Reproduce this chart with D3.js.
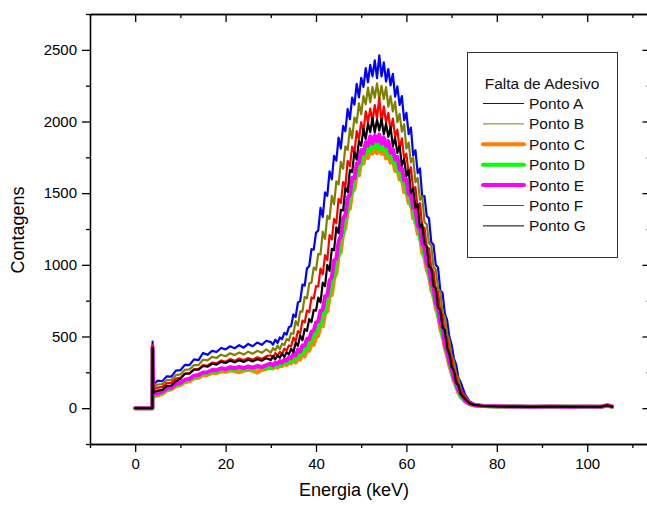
<!DOCTYPE html>
<html><head><meta charset="utf-8">
<script src="https://cdn.jsdelivr.net/npm/d3@7"></script>
<style>
body{margin:0;background:#fff}
svg{display:block}
text{font-family:"Liberation Sans",Arial,sans-serif}
</style>
</head><body>
<svg id="chart" width="647" height="510"></svg>
<script>
// ---------- DATA ----------
const energy = [0,3.8,3.85,4.0,4.3,
 5,6,7,8,9,10,11,12,13,14,
 15,16,17,18,19,20,21,22,23,24,
 25,26,27,28,29,
 30,30.5,31,31.5,32,32.5,33,33.5,34,34.5,
 35,35.5,36,36.5,37,37.5,38,38.5,39,39.5,
 40,40.5,41,41.5,42,42.5,43,43.5,44,44.5,
 45,45.5,46,46.5,47,47.5,48,48.5,49,49.5,
 50,50.5,51,51.5,52,52.5,53,53.5,54,54.5,
 55,55.5,56,56.5,57,57.5,58,58.5,59,59.5,
 60,60.5,61,61.5,62,62.5,63,63.5,64,64.5,
 65,65.5,66,66.5,67,67.5,68,68.5,69,69.5,
 70,70.5,71,71.5,72,
 73,74,75,
 77,80,84,88,92,96,100,103,104.5,105.5];

const pontoA = [0,0,465,150,172,
 192,188,222,220,262,265,302,300,340,335,
 385,372,400,392,420,410,432,418,440,422,
 448,432,458,442,470,
 461,443,478,455,493,482,526,513,565,573,
 654,636,738,747,862,855,975,990,1109,1106,
 1223,1240,1397,1335,1505,1482,1652,1596,1761,1727,
 1887,1812,1970,1932,2087,2016,2166,2117,2262,2168,
 2305,2242,2372,2274,2396,2315,2427,2303,2462,2315,
 2412,2279,2366,2252,2332,2173,2245,2115,2177,2009,
 2061,1912,1957,1763,1800,1640,1672,1476,1479,1340,
 1324,1158,1140,999,981,822,804,662,616,498,
 445,348,305,213,182,
 95,46,30,
 17,13,12,11,12,10,11,10,22,12];

const pontoB = [0,0,440,135,150,
 165,168,195,197,230,236,268,270,300,300,
 338,333,358,350,373,362,383,370,388,374,
 394,380,400,386,410,
 388,419,403,437,412,450,440,483,472,523,
 519,608,576,675,674,776,766,871,876,981,
 965,1077,1073,1231,1180,1341,1320,1481,1423,1583,
 1561,1719,1670,1827,1801,1952,1884,2028,1990,2126,
 2051,2177,2120,2237,2134,2241,2165,2266,2157,2248,
 2157,2240,2103,2177,2070,2138,1995,2054,1929,1980,
 1810,1853,1715,1750,1576,1606,1454,1477,1298,1283,
 1151,1134,985,967,834,816,659,642,521,471,
 366,326,239,213,128,
 82,40,28,
 16,13,11,12,10,11,10,11,20,11];

const pontoC = [0,0,410,75,85,
 90,100,124,131,154,162,182,188,209,212,
 230,232,246,245,257,254,264,259,250,262,
 268,262,248,266,275,
 286,277,295,283,300,293,311,301,320,313,
 342,318,352,340,376,362,403,401,447,442,
 494,506,581,571,663,677,780,789,905,940,
 1063,1090,1218,1255,1380,1392,1510,1527,1633,1625,
 1718,1707,1785,1745,1810,1777,1833,1779,1826,1776,
 1815,1742,1775,1713,1738,1655,1673,1595,1605,1507,
 1515,1430,1433,1325,1318,1217,1205,1082,1056,962,
 926,825,788,694,657,551,511,418,369,294,
 248,188,155,106,87,
 47,27,20,
 15,12,11,10,11,10,10,10,18,10];

const pontoD = [0,0,420,80,92,
 100,109,132,139,162,170,191,198,219,223,
 241,243,257,256,268,266,276,271,278,272,
 280,275,283,278,289,
 281,301,292,307,299,318,310,329,321,344,
 332,364,349,392,380,421,414,468,465,516,
 519,584,582,668,665,779,787,893,913,1039,
 1064,1183,1213,1347,1374,1482,1502,1610,1619,1704,
 1700,1787,1769,1827,1796,1856,1816,1856,1808,1857,
 1800,1825,1761,1792,1721,1732,1654,1674,1588,1587,
 1498,1505,1410,1395,1291,1288,1179,1153,1051,1016,
 917,874,775,741,643,598,496,461,371,321,
 245,211,149,125,78,
 49,30,21,
 15,12,12,10,10,11,10,10,19,11];

const pontoE = [0,0,430,95,100,
 106,115,138,145,169,177,199,205,227,231,
 249,250,266,265,278,273,286,279,288,280,
 291,283,294,287,300,
 311,299,317,310,329,318,337,334,354,348,
 379,369,408,394,437,436,484,481,533,542,
 598,606,681,687,782,786,890,915,1030,1044,
 1164,1200,1325,1346,1467,1492,1607,1603,1707,1710,
 1801,1778,1855,1832,1897,1846,1902,1862,1909,1847,
 1886,1830,1863,1782,1807,1737,1754,1664,1673,1590,
 1596,1491,1492,1396,1387,1272,1258,1150,1118,1012,
 973,877,838,734,695,597,555,449,400,326,
 276,209,173,124,102,
 52,31,21,
 15,13,11,10,11,10,11,10,20,12];

const pontoF = [0,0,440,120,135,
 143,148,175,177,207,212,242,244,273,273,
 300,296,318,312,333,324,342,330,346,334,
 350,338,355,344,363,
 369,347,384,364,393,376,415,402,438,431,
 493,468,538,520,611,598,681,670,773,765,
 851,850,974,933,1068,1033,1208,1176,1320,1290,
 1460,1431,1578,1547,1725,1688,1825,1779,1933,1877,
 1995,1928,2070,1993,2090,2003,2115,2021,2165,1999,
 2105,1994,2058,1939,2020,1894,1943,1808,1883,1742,
 1775,1628,1680,1524,1543,1382,1430,1263,1259,1124,
 1115,979,954,817,813,676,649,513,489,391,
 342,256,227,154,131,
 72,36,25,
 16,12,11,11,10,11,10,10,21,11];

const pontoG = [0,0,420,105,115,
 122,128,156,158,188,205,240,240,268,268,
 294,289,310,304,323,315,331,320,334,322,
 338,326,341,331,349,
 336,363,341,368,351,381,357,390,375,414,
 391,457,435,508,474,552,540,621,601,685,
 680,772,738,876,852,999,958,1112,1102,1261,
 1222,1383,1380,1538,1508,1661,1647,1789,1734,1864,
 1830,1948,1877,1985,1926,2023,1923,2012,1937,2018,
 1910,1984,1893,1960,1828,1886,1781,1831,1693,1739,
 1619,1660,1502,1532,1399,1424,1261,1282,1145,1130,
 989,974,853,836,701,684,561,546,419,377,
 289,259,177,160,99,
 62,33,23,
 15,12,11,10,11,10,10,10,19,10];

const seriesNames = ["Ponto A","Ponto B","Ponto C","Ponto D","Ponto E","Ponto F","Ponto G"];
const seriesValues = [pontoA,pontoB,pontoC,pontoD,pontoE,pontoF,pontoG];
const seriesColors = ["#0000ff","#808000","#ff8000","#00ff00","#ff00ff","#ff0000","#000000"];
const seriesWidths = [2.2,2.2,4,4,4,2.2,2.2];
const legendWidths = [1,1,4,4,4,1,1];

const legendTitle = "Falta de Adesivo";
const xTitle = "Energia (keV)";
const yTitle = "Contagens";
const xTickValues = [0,20,40,60,80,100];
const xMinorTicks = [-10,10,30,50,70,90,110];
const yTickValues = [0,500,1000,1500,2000,2500];
const yMinorTicks = [-250,250,750,1250,1750,2250,2750];
const xDomain = [-10,114];
const yDomain = [-250,2750];

seriesValues.forEach((v,i)=>{ if(v.length!==energy.length) throw new Error(seriesNames[i]+" length "+v.length+" vs "+energy.length); });

// ---------- LAYOUT ----------
const svg = d3.select("#chart");
const L = 90, T = 14, B = 444, pxPerKeV = 4.52;
const R = L + (xDomain[1]-xDomain[0])*pxPerKeV;

const x = d3.scaleLinear().domain(xDomain).range([L, R]);
const y = d3.scaleLinear().domain(yDomain).range([B, T]);

svg.append("rect").attr("width",647).attr("height",510).attr("fill","#fff");

svg.append("defs").append("clipPath").attr("id","clip")
  .append("rect").attr("x",L).attr("y",T).attr("width",R-L).attr("height",B-T);

// ---------- LINES ----------
const line = d3.line().x(d=>x(d[0])).y(d=>y(d[1]));
const g = svg.append("g").attr("clip-path","url(#clip)");
seriesValues.forEach((vals,i)=>{
  const pts = energy.map((e,k)=>[e, vals[k]]);
  g.append("path").datum(pts)
    .attr("d", line)
    .attr("fill","none")
    .attr("stroke", seriesColors[i])
    .attr("stroke-width", seriesWidths[i])
    .attr("stroke-linejoin","round")
    .attr("stroke-linecap","round");
});

// ---------- AXES ----------
function styleAxis(sel){
  sel.selectAll("path").attr("stroke","#000").attr("stroke-width",1.3);
  sel.selectAll("line").attr("stroke","#000").attr("stroke-width",1.3);
  sel.selectAll("text").attr("fill","#000").style("font-size","15px")
     .style("font-family",'"Liberation Sans",Arial,sans-serif');
}
const bx = svg.append("g").attr("transform",`translate(0,${B})`)
  .call(d3.axisBottom(x).tickValues(xTickValues).tickSize(8).tickSizeOuter(0).tickPadding(6).tickFormat(d3.format("d")));
styleAxis(bx);
const bxm = svg.append("g").attr("transform",`translate(0,${B})`)
  .call(d3.axisBottom(x).tickValues(xMinorTicks).tickSize(4).tickSizeOuter(0).tickFormat(""));
styleAxis(bxm);
const tx = svg.append("g").attr("transform",`translate(0,${T})`)
  .call(d3.axisTop(x).tickValues(xTickValues).tickSize(-8).tickSizeOuter(0).tickFormat(""));
styleAxis(tx);
const txm = svg.append("g").attr("transform",`translate(0,${T})`)
  .call(d3.axisTop(x).tickValues(xMinorTicks).tickSize(-4).tickSizeOuter(0).tickFormat(""));
styleAxis(txm);
const ly = svg.append("g").attr("transform",`translate(${L},0)`)
  .call(d3.axisLeft(y).tickValues(yTickValues).tickSize(8).tickSizeOuter(0).tickPadding(5).tickFormat(d3.format("d")));
styleAxis(ly);
const lym = svg.append("g").attr("transform",`translate(${L},0)`)
  .call(d3.axisLeft(y).tickValues(yMinorTicks).tickSize(4).tickSizeOuter(0).tickFormat(""));
styleAxis(lym);
const ry = svg.append("g").attr("transform",`translate(${R},0)`)
  .call(d3.axisRight(y).tickValues(yTickValues).tickSize(-8).tickSizeOuter(0).tickFormat(""));
styleAxis(ry);
const rym = svg.append("g").attr("transform",`translate(${R},0)`)
  .call(d3.axisRight(y).tickValues(yMinorTicks).tickSize(-4).tickSizeOuter(0).tickFormat(""));
styleAxis(rym);

svg.append("text").attr("x",354).attr("y",496).attr("text-anchor","middle")
  .style("font-size","18px").attr("fill","#000").text(xTitle);
svg.append("text").attr("transform","translate(24,230) rotate(-90)").attr("text-anchor","middle")
  .style("font-size","18px").attr("fill","#000").text(yTitle);

// ---------- LEGEND ----------
const lg = svg.append("g");
lg.append("rect").attr("x",467.5).attr("y",52.5).attr("width",150).attr("height",205)
  .attr("fill","#fff").attr("stroke","#333").attr("stroke-width",1);
lg.append("text").attr("x",542).attr("y",89).attr("text-anchor","middle")
  .style("font-size","15.5px").attr("fill","#111").text(legendTitle);
seriesNames.forEach((nm,i)=>{
  const cy = 103.5 + i*20.4;
  lg.append("line").attr("x1",483).attr("x2",524).attr("y1",cy).attr("y2",cy)
    .attr("stroke",seriesColors[i]).attr("stroke-width",legendWidths[i])
    .attr("stroke-linecap", legendWidths[i]===1?"butt":"round");
  lg.append("text").attr("x",529).attr("y",cy+5.5)
    .style("font-size","15.5px").attr("fill","#111").text(nm);
});
</script>
</body></html>
